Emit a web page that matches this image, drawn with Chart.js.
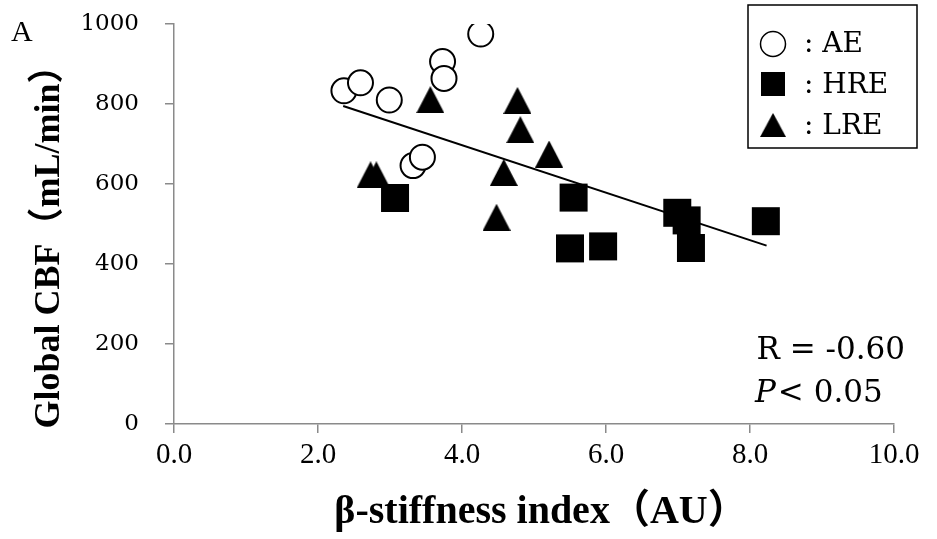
<!DOCTYPE html>
<html>
<head>
<meta charset="utf-8">
<script src="https://cdn.jsdelivr.net/npm/chart.js@4.4.0/dist/chart.umd.min.js"></script>
<style>
  html, body { margin: 0; padding: 0; background: #fff; }
</style>
</head>
<body>
<canvas id="cbfChart" width="937" height="539"></canvas>
<script>
// Global CBF vs beta-stiffness scatter

const aeX = [2.36, 2.59, 2.99, 3.73, 3.75, 4.26, 3.32, 3.45]
const aeY = [833, 853, 810, 906, 864, 975, 646, 667]

const hreX = [3.07, 5.55, 5.50, 5.96, 6.99, 7.12, 7.18, 8.22]
const hreY = [565, 566, 439, 444, 528, 509, 440, 507]

const lreX = [3.56, 4.77, 4.81, 5.21, 4.58, 2.73, 2.81, 4.48]
const lreY = [811, 809, 736, 675, 629, 623, 623, 517]

// regression line end points
const fitX = [2.35, 8.23]
const fitY = [795, 446]

const xTicks = [0, 2, 4, 6, 8, 10]
const yTicks = [0, 200, 400, 600, 800, 1000]

const serif = "'DejaVu Serif', serif"
const narrowSerif = "'Liberation Serif', serif"
const boldSerif = "'Liberation Serif', 'Noto Sans CJK JP', serif"
const axisGrey = '#8a8a8a'

function toPoints(xs, ys) {
  return xs.map((x, i) => ({ x: x, y: ys[i] }))
}

// triangle marker centred in its box (like the spreadsheet marker)
function triangleMarker(w, h) {
  const c = document.createElement('canvas')
  c.width = w
  c.height = h
  const g = c.getContext('2d')
  g.fillStyle = '#000'
  g.beginPath()
  g.moveTo(w / 2, 0)
  g.lineTo(w, h)
  g.lineTo(0, h)
  g.closePath()
  g.fill()
  return c
}
const tri = triangleMarker(28, 27)

const annotations = {
  id: 'annotations',
  afterDraw(chart) {
    const ctx = chart.ctx
    ctx.save()
    ctx.fillStyle = '#000'

    // panel letter
    ctx.font = '30px ' + narrowSerif
    ctx.textAlign = 'left'
    ctx.textBaseline = 'alphabetic'
    ctx.fillText('A', 11, 41)

    // R and P
    ctx.font = '31px ' + serif
    ctx.textAlign = 'right'
    ctx.fillText('R = -0.60', 905, 359)
    ctx.textAlign = 'left'
    ctx.font = 'italic 31px ' + serif
    ctx.fillText('P', 755, 402)
    const pw = ctx.measureText('P').width
    ctx.font = '31px ' + serif
    ctx.fillText('< 0.05', 755 + pw + 2, 402)

    // axis titles
    ctx.font = 'bold 40px ' + boldSerif
    ctx.textAlign = 'center'
    ctx.fillText('β-stiffness index（AU）', 541, 523)

    ctx.save()
    ctx.translate(50, 238)
    ctx.rotate(-Math.PI / 2)
    ctx.font = 'bold 36px ' + boldSerif
    ctx.textBaseline = 'middle'
    ctx.fillText('Global CBF（mL/min）', 0, 0)
    ctx.restore()

    // legend box
    ctx.strokeStyle = '#000'
    ctx.lineWidth = 1.5
    ctx.strokeRect(748, 5, 169, 143)
    const mx = 773
    ctx.fillStyle = '#fff'
    ctx.beginPath()
    ctx.arc(mx, 44, 12.5, 0, Math.PI * 2)
    ctx.fill()
    ctx.stroke()
    ctx.fillStyle = '#000'
    ctx.fillRect(mx - 12, 84 - 12, 24, 24)
    ctx.drawImage(tri, mx - 13, 125 - 12, 26, 24)

    ctx.font = '28px ' + serif
    ctx.textAlign = 'left'
    ctx.textBaseline = 'middle'
    ctx.fillText(': AE', 804, 45)
    ctx.fillText(': HRE', 804, 86)
    ctx.fillText(': LRE', 804, 127)
    ctx.restore()
  },
}

const data = {
  datasets: [
    {
      label: 'AE',
      data: toPoints(aeX, aeY),
      pointStyle: 'circle',
      pointRadius: 12.5,
      pointBorderWidth: 2,
      pointBackgroundColor: '#fff',
      pointBorderColor: '#000',
      order: 1,
    },
    {
      label: 'HRE',
      data: toPoints(hreX, hreY),
      pointStyle: 'rect',
      pointRadius: 19.8,
      pointBorderWidth: 0,
      pointBackgroundColor: '#000',
      pointBorderColor: '#000',
      order: 2,
    },
    {
      label: 'LRE',
      data: toPoints(lreX, lreY),
      pointStyle: tri,
      pointRadius: 14,
      order: 3,
    },
    {
      label: 'fit',
      data: toPoints(fitX, fitY),
      showLine: true,
      borderColor: '#000',
      borderWidth: 2,
      pointRadius: 0,
      order: 0,
    },
  ],
}

const config = {
  type: 'scatter',
  data: data,
  options: {
    responsive: false,
    animation: false,
    devicePixelRatio: 1,
    layout: { padding: { top: 24, right: 43, left: 0, bottom: 0 } },
    plugins: {
      legend: { display: false },
      tooltip: { enabled: false },
    },
    scales: {
      x: {
        type: 'linear',
        min: 0,
        max: 10,
        afterBuildTicks: (s) => { s.ticks = xTicks.map((v) => ({ value: v })) },
        afterFit: (s) => { s.height = 115 },
        ticks: {
          color: '#000',
          font: { family: narrowSerif, size: 29 },
          padding: 5,
          callback: (v) => Number(v).toFixed(1),
        },
        grid: { drawOnChartArea: false, tickLength: 9, color: axisGrey, lineWidth: 1.5 },
        border: { color: axisGrey, width: 1.5 },
      },
      y: {
        type: 'linear',
        min: 0,
        max: 1000,
        afterBuildTicks: (s) => { s.ticks = yTicks.map((v) => ({ value: v })) },
        afterFit: (s) => {
          s.width = 174
          // tick padding should not push the plot area down
          s.paddingTop = 0
          s.paddingBottom = 0
        },
        ticks: {
          color: '#000',
          font: { family: serif, size: 23 },
          padding: 26,
          callback: (v) => String(v),
        },
        grid: { drawOnChartArea: false, tickLength: 9, color: axisGrey, lineWidth: 1.5 },
        border: { color: axisGrey, width: 1.5 },
      },
    },
  },
  plugins: [annotations],
}

const myChart = new Chart(document.getElementById('cbfChart'), config)
</script>
</body>
</html>
